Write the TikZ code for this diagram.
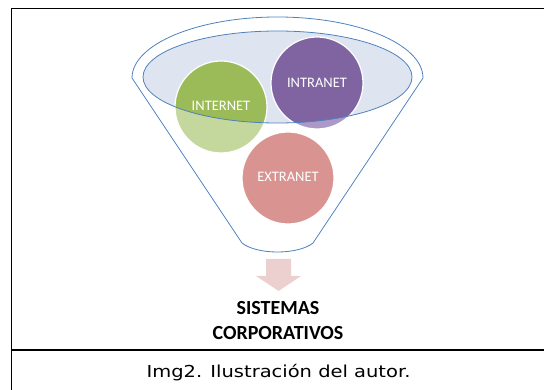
\documentclass[tikz,border=0pt]{standalone}
\usepackage{fontspec}
\setmainfont{Carlito}
\newfontfamily\capfont{DejaVu Sans}
\definecolor{funnelblue}{RGB}{79,129,189}
\definecolor{ellfill}{RGB}{223,229,240}
\definecolor{gdark}{RGB}{155,187,89}
\definecolor{glight}{RGB}{196,215,156}
\definecolor{pdark}{RGB}{128,100,162}
\definecolor{plight}{RGB}{172,153,200}
\definecolor{pink}{RGB}{217,148,146}
\definecolor{arrowpink}{RGB}{236,208,208}
\tikzset{
  frameline/.style={line width=1.3pt,black},
  funnelline/.style={draw=funnelblue,line width=0.8pt},
  bubble/.style={draw=white,line width=1.2pt},
  bubblelabel/.style={text=white,font=\fontsize{14.5}{16}\selectfont,inner sep=0pt},
  resultlabel/.style={font=\bfseries\fontsize{20}{25}\selectfont,align=center,inner sep=0pt}
}
\begin{document}
\begin{tikzpicture}[x=1pt,y=-1pt]
\useasboundingbox (0,0) rectangle (544,390);
% frame
\draw[frameline] (11.5,400) -- (11.5,8.5) -- (560,8.5);
\draw[frameline] (11.5,350) -- (560,350);
% funnel outline
\coordinate (fl) at (132,78);
\coordinate (fr) at (423,78);
\coordinate (bl) at (242,243);
\coordinate (br) at (313,243);
\draw[funnelline,line join=round] (fl) arc[start angle=180,end angle=360,x radius=145.5,y radius=61]
  -- (br) .. controls (298,255) and (257,255) .. (bl) -- cycle;
% inner ellipse fill
\fill[ellfill] (277.5,77) ellipse[x radius=134.5,y radius=46];
% bubbles (light parts)
\fill[glight] (221,107) circle[radius=46];
\fill[plight] (317,83) circle[radius=46];
\fill[pink] (288,178) circle[radius=46];
\begin{scope}
  \clip (277.5,77) ellipse[x radius=134.5,y radius=46];
  \fill[gdark] (221,107) circle[radius=46];
  \fill[pdark] (317,83) circle[radius=46];
\end{scope}
\draw[bubble] (221,107) circle[radius=46];
\draw[bubble] (317,83) circle[radius=46];
\draw[bubble] (288,178) circle[radius=46];
% inner ellipse outline
\draw[funnelline] (277.5,77) ellipse[x radius=134.5,y radius=46];
% labels
\node[bubblelabel] (internet) at (221,106) {INTERNET};
\node[bubblelabel] (intranet) at (317,83) {INTRANET};
\node[bubblelabel] (extranet) at (288,177) {EXTRANET};
% arrow
\fill[arrowpink] (266,259) -- (291,259) -- (291,276) -- (301,276) -- (278.5,291)
  -- (256,276) -- (266,276) -- cycle;
% result text
\node[resultlabel] (res1) at (278,308) {SISTEMAS};
\node[resultlabel] (res2) at (278,333) {CORPORATIVOS};
% caption
\node[inner sep=0pt] (cap) at (278.5,373) {\scalebox{1.18}[1]{\capfont\fontsize{16.5}{20}\selectfont Img2. Ilustración del autor.}};
\end{tikzpicture}
\end{document}
